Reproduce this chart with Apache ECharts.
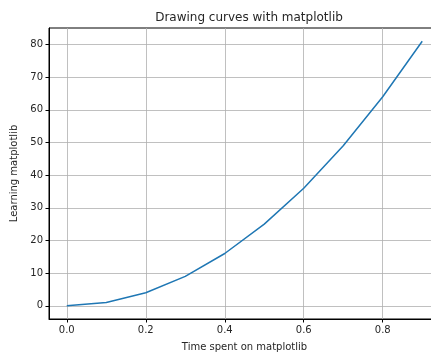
<!DOCTYPE html>
<html>
<head>
<meta charset="utf-8">
<script src="https://cdn.jsdelivr.net/npm/echarts@6/dist/echarts.min.js"></script>
<style>
  html, body { margin: 0; padding: 0; background: #fff; }
  #main { width: 431px; height: 353px; }
</style>
</head>
<body>
<div id="main"></div>
<script>
var xValues = [0.0, 0.1, 0.2, 0.3, 0.4, 0.5, 0.6, 0.7, 0.8, 0.9];
var yValues = [0, 1, 4, 9, 16, 25, 36, 49, 64, 81];
var xTicks = [0.0, 0.2, 0.4, 0.6, 0.8];
var yTicks = [0, 10, 20, 30, 40, 50, 60, 70, 80];

var myChart = echarts.init(document.getElementById('main'), null, { renderer: 'canvas' });

var font = 'DejaVu Sans';
var textColor = '#262626';

var option = {
  animation: false,
  title: {
    text: 'Drawing curves with matplotlib',
    left: 244,
    top: 7,
    textAlign: 'center',
    textStyle: { fontFamily: font, fontSize: 12, fontWeight: 'normal', color: '#262626' }
  },
  grid: {
    left: 49,
    top: 28,
    right: -9,
    bottom: 34,
    containLabel: false,
    outerBoundsMode: 'none',
    show: true,
    borderColor: '#000',
    borderWidth: 1
  },
  xAxis: {
    type: 'value',
    min: -0.045,
    max: 0.945,
    name: 'Time spent on matplotlib',
    nameLocation: 'middle',
    nameGap: 23,
    nameTextStyle: { fontFamily: font, fontSize: 10, color: textColor },
    axisLine: { show: true, onZero: false, lineStyle: { color: '#000', width: 1 } },
    axisTick: { show: true, length: 3.5, customValues: xTicks, lineStyle: { color: '#000' } },
    axisLabel: {
      customValues: xTicks,
      margin: 6,
      fontFamily: font,
      fontSize: 10,
      color: textColor,
      formatter: function (v) { return v.toFixed(1); }
    },
    splitLine: { show: true, lineStyle: { color: '#b0b0b0', width: 0.8 } }
  },
  yAxis: {
    type: 'value',
    min: -4.05,
    max: 85.05,
    name: 'Learning matplotlib',
    nameLocation: 'middle',
    nameGap: 29,
    nameTextStyle: { fontFamily: font, fontSize: 10, color: textColor },
    axisLine: { show: true, onZero: false, lineStyle: { color: '#000', width: 1 } },
    axisTick: { show: true, length: 3.5, customValues: yTicks, lineStyle: { color: '#000' } },
    axisLabel: {
      customValues: yTicks,
      margin: 6,
      fontFamily: font,
      fontSize: 10,
      color: textColor
    },
    splitLine: { show: true, lineStyle: { color: '#b0b0b0', width: 0.8 } }
  },
  series: [
    {
      type: 'line',
      data: xValues.map(function (x, i) { return [x, yValues[i]]; }),
      showSymbol: false,
      lineStyle: { color: '#1f77b4', width: 1.5 },
      itemStyle: { color: '#1f77b4' }
    }
  ]
};

myChart.setOption(option);
</script>
</body>
</html>
